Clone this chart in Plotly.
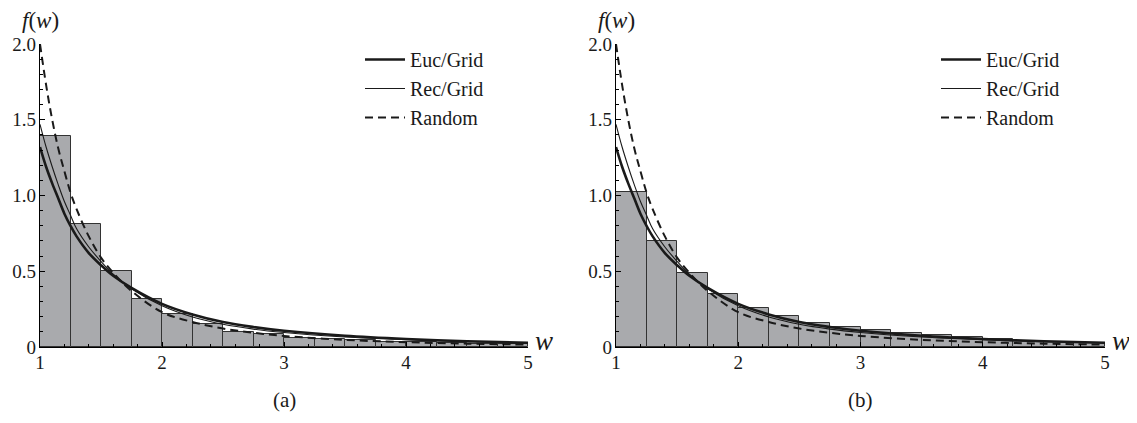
import plotly.graph_objects as go
from plotly.subplots import make_subplots

# histogram bins (left edges, width 0.25)
bin_left = [1.0, 1.25, 1.5, 1.75, 2.0, 2.25, 2.5, 2.75,
            3.0, 3.25, 3.5, 3.75, 4.0, 4.25, 4.5, 4.75]
hist_a = [1.39, 0.81, 0.50, 0.32, 0.215, 0.15, 0.10, 0.085,
          0.062, 0.052, 0.043, 0.036, 0.031, 0.026, 0.022, 0.019]
hist_b = [1.02, 0.70, 0.49, 0.35, 0.255, 0.205, 0.16, 0.13,
          0.11, 0.09, 0.077, 0.064, 0.05, 0.04, 0.032, 0.026]

# curves
w = [1.0, 1.05, 1.1, 1.15, 1.2, 1.25, 1.3, 1.4, 1.5, 1.6, 1.75,
     2.0, 2.25, 2.5, 2.75, 3.0, 3.5, 4.0, 4.5, 5.0]
euc_grid = [1.32, 1.19, 1.08, 0.98, 0.88, 0.80, 0.73, 0.62, 0.54, 0.47, 0.39,
            0.285, 0.215, 0.165, 0.132, 0.107, 0.074, 0.053, 0.038, 0.028]
rec_grid = [1.47, 1.32, 1.19, 1.07, 0.96, 0.87, 0.78, 0.66, 0.565, 0.48, 0.385,
            0.272, 0.198, 0.150, 0.118, 0.096, 0.066, 0.048, 0.035, 0.026]
random_ = [2.0, 1.73, 1.50, 1.31, 1.16, 1.02, 0.91, 0.73, 0.59, 0.49, 0.37,
           0.23, 0.165, 0.122, 0.094, 0.073, 0.047, 0.032, 0.022, 0.016]

x_ticks = [1, 2, 3, 4, 5]
y_ticks = [0, 0.5, 1.0, 1.5, 2.0]
y_labels = ["0", "0.5", "1.0", "1.5", "2.0"]

W, H = 1137, 423
PAD = 8  # page body margin shifts the figure by this much
FONT = "Liberation Serif"
INK = "#1a1a1a"


def px(x):
    return (x - PAD) / W


def py(y):
    return (H - (y - PAD)) / H


fig = make_subplots(rows=1, cols=2)

panels = [(hist_a, 1, "legend"), (hist_b, 2, "legend2")]
for hist, col, leg in panels:
    fig.add_trace(go.Bar(
        x=bin_left, y=hist, width=0.25, offset=0,
        marker=dict(color="#a9aaad", line=dict(color="#333333", width=1)),
        showlegend=False, hoverinfo="skip"
    ), row=1, col=col)
    fig.add_trace(go.Scatter(
        x=w, y=euc_grid, mode="lines", name="Euc/Grid", legend=leg,
        line=dict(color=INK, width=2.6, shape="spline")
    ), row=1, col=col)
    fig.add_trace(go.Scatter(
        x=w, y=rec_grid, mode="lines", name="Rec/Grid", legend=leg,
        line=dict(color=INK, width=1.1, shape="spline")
    ), row=1, col=col)
    fig.add_trace(go.Scatter(
        x=w, y=random_, mode="lines", name="Random", legend=leg,
        line=dict(color=INK, width=2, dash="8px,5px", shape="spline")
    ), row=1, col=col)

# pixel placement of the two plot areas (screen pixels)
x_px = [(40, 528), (616, 1105)]
y_dom = [py(347), py(44)]

for i, (x0, x1) in enumerate(x_px, start=1):
    fig.update_xaxes(
        domain=[px(x0), px(x1)], range=[1, 5], tickvals=x_ticks, automargin=False,
        ticks="inside", ticklen=5, tickcolor="black", tickwidth=1,
        minor=dict(dtick=0.2, ticks="inside", ticklen=3, tickcolor="black"),
        showline=True, linecolor="black", linewidth=1.3,
        showgrid=False, zeroline=False, ticklabelstandoff=-2,
        tickfont=dict(family=FONT, size=19, color=INK),
        row=1, col=i)
    fig.update_yaxes(
        domain=y_dom, range=[0, 2.0], tickvals=y_ticks, ticktext=y_labels,
        automargin=False,
        ticks="inside", ticklen=5, tickcolor="black", tickwidth=1,
        minor=dict(dtick=0.1, ticks="inside", ticklen=3, tickcolor="black"),
        showline=True, linecolor="black", linewidth=1.3,
        showgrid=False, zeroline=False, ticklabelstandoff=-1,
        tickfont=dict(family=FONT, size=19, color=INK),
        row=1, col=i)

    # axis names and panel caption
    fig.add_annotation(x=px(x0), y=py(20), xref="paper", yref="paper",
                       xanchor="center", yanchor="middle",
                       text="<i>f</i>(<i>w</i>)", showarrow=False,
                       font=dict(family=FONT, size=23, color=INK))
    fig.add_annotation(x=px(x1 + 16), y=py(341), xref="paper", yref="paper",
                       xanchor="center", yanchor="middle",
                       text="<i>w</i>", showarrow=False,
                       font=dict(family=FONT, size=27, color=INK))
    fig.add_annotation(x=px((x0 + x1) / 2), y=py(400), xref="paper", yref="paper",
                       xanchor="center", yanchor="middle",
                       text="(a)" if i == 1 else "(b)", showarrow=False,
                       font=dict(family=FONT, size=21, color=INK))

leg_style = dict(font=dict(family=FONT, size=20, color=INK), bgcolor="rgba(0,0,0,0)",
                 xanchor="left", yanchor="top", tracegroupgap=0, itemwidth=40)
fig.update_layout(
    width=W, height=H,
    margin=dict(l=0, r=0, t=0, b=0),
    paper_bgcolor="white", plot_bgcolor="white",
    bargap=0,
    legend=dict(x=px(360), y=py(40), **leg_style),
    legend2=dict(x=px(936), y=py(40), **leg_style),
)

fig.write_html("out.html")
